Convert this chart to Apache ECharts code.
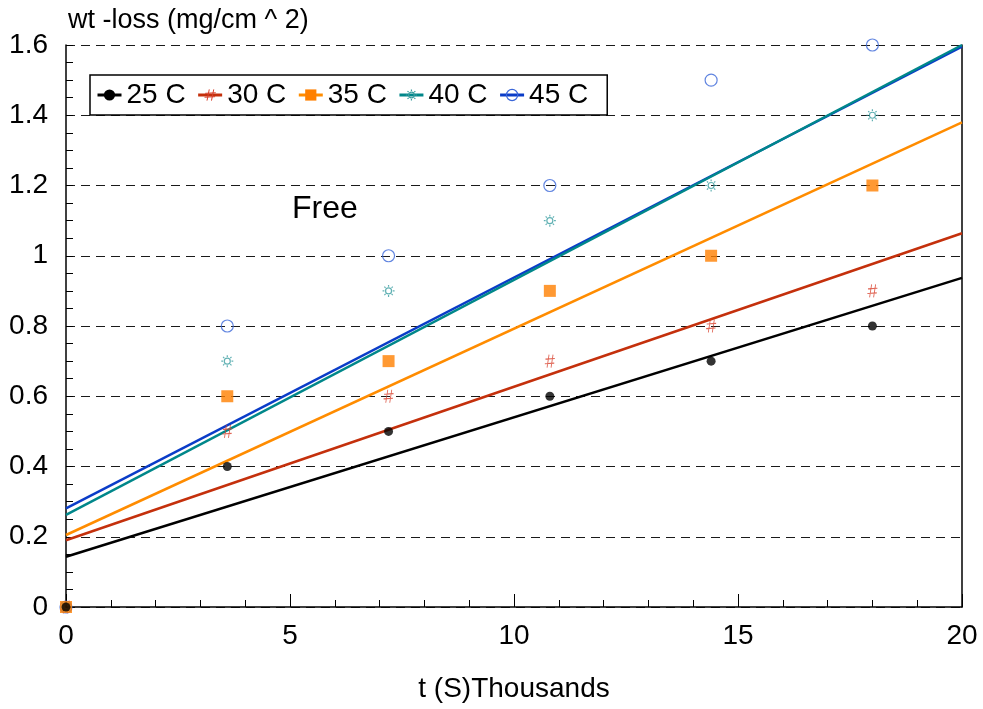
<!DOCTYPE html>
<html><head><meta charset="utf-8">
<script src="https://cdn.jsdelivr.net/npm/echarts@6/dist/echarts.min.js"></script>
<style>html,body{margin:0;padding:0;background:#fff}#c{width:983px;height:709px}</style>
</head><body><div id="c"></div>
<script>
// ---- data ----
const seriesNames = ['25 C', '30 C', '35 C', '40 C', '45 C'];
const times = [0, 3.6, 7.2, 10.8, 14.4, 18];          // t (S) thousands
const loss25 = [0, 0.4, 0.5, 0.6, 0.7, 0.8];
const loss30 = [0, 0.5, 0.6, 0.7, 0.8, 0.9];
const loss35 = [0, 0.6, 0.7, 0.9, 1.0, 1.2];
const loss40 = [0, 0.7, 0.9, 1.1, 1.2, 1.4];
const loss45 = [0, 0.8, 1.0, 1.2, 1.5, 1.6];
// trend-line values read at t = 0 and t = 20
const trendX = [0, 20];
const trend25 = [0.143, 0.937];
const trend30 = [0.19, 1.064];
const trend35 = [0.205, 1.38];
const trend40 = [0.262, 1.6];
const trend45 = [0.281, 1.595];
const annotation = 'Free';
const yName = 'wt -loss (mg/cm ^ 2)';
const xName = 't (S)Thousands';

const allLoss = [loss25, loss30, loss35, loss40, loss45];
const allTrend = [trend25, trend30, trend35, trend40, trend45];

const FONT = '"Liberation Sans", Arial, Helvetica, sans-serif';
const lineColors = ['#000000', '#c4300c', '#ff8c00', '#00878a', '#0a3cc8'];
const hashPath = 'path://M4.2,0 L2.2,12 M8.2,0 L6.2,12 M0.6,4.2 L10,3.6 M0,8.4 L9.4,7.8';
const sunPath = 'path://M9,6 A3,3 0 1,1 3,6 A3,3 0 1,1 9,6 Z M6,0 L6,1.8 M6,10.2 L6,12 M0,6 L1.8,6 M10.2,6 L12,6 M1.8,1.8 L3,3 M9,9 L10.2,10.2 M10.2,1.8 L9,3 M1.8,10.2 L3,9';
const symbols = ['circle', hashPath, 'rect', sunPath, 'circle'];
const symbolSizes = [9, [10, 13], 12, 12, 12];
const markerStyles = [
  {color: '#000000', borderWidth: 0},
  {color: 'none', borderColor: '#d8402c', borderWidth: 1},
  {color: '#ff8000', borderWidth: 0},
  {color: 'none', borderColor: '#3a9ea0', borderWidth: 1.2},
  {color: 'none', borderColor: '#3a66d8', borderWidth: 1.2}
];
const scatterZ = [7, 5, 6, 5, 5];

const series = [];
seriesNames.forEach((name, i) => {
  series.push({
    name, type: 'line',
    data: trendX.map((x, j) => [x, allTrend[i][j]]),
    showSymbol: false, symbol: symbols[i], symbolSize: symbolSizes[i],
    itemStyle: markerStyles[i],
    lineStyle: {color: lineColors[i], width: 2.5},
    z: i === 3 ? 3 : 2, clip: true, silent: true, animation: false
  });
  series.push({
    name, type: 'scatter',
    data: times.map((t, j) => [t, allLoss[i][j]]),
    symbol: symbols[i], symbolSize: symbolSizes[i],
    itemStyle: markerStyles[i],
    z: scatterZ[i], clip: false, silent: true, animation: false
  });
});

const chart = echarts.init(document.getElementById('c'), null, {renderer: 'canvas'});
chart.setOption({
  backgroundColor: '#fff',
  animation: false,
  textStyle: {fontFamily: FONT},
  grid: {left: 66, right: 21, top: 45, bottom: 102, containLabel: false, outerBoundsMode: 'none'},
  legend: {
    left: 90, top: 75,
    orient: 'horizontal',
    backgroundColor: '#fff',
    borderColor: '#000', borderWidth: 1.5,
    padding: [6, 19, 6, 6],
    itemWidth: 24, itemHeight: 14, itemGap: 11,
    textStyle: {fontSize: 28, color: '#000', fontFamily: FONT},
    lineStyle: {width: 3},
    selectedMode: false,
    data: seriesNames.map((n, i) => ({name: n, itemStyle: markerStyles[i]}))
  },
  graphic: [{
    type: 'text', left: 292, top: 193, silent: true,
    style: {text: annotation, fontSize: 32, fill: '#000', fontFamily: FONT}
  }],
  xAxis: {
    type: 'value', min: 0, max: 20, interval: 5,
    name: xName, nameLocation: 'middle', nameGap: 68,
    nameTextStyle: {fontSize: 28, color: '#000', fontFamily: FONT},
    axisLine: {show: true, lineStyle: {color: '#000', width: 1.5}},
    axisTick: {show: true, inside: true, length: 13, lineStyle: {color: '#000', width: 1}},
    minorTick: {show: true, splitNumber: 5, length: 7, lineStyle: {color: '#000', width: 1}},
    axisLabel: {fontSize: 28, color: '#000', margin: 15, fontFamily: FONT},
    splitLine: {show: false}
  },
  yAxis: [{
    type: 'value', min: 0, max: 1.6, interval: 0.2,
    name: yName, nameLocation: 'end', nameGap: 11,
    nameTextStyle: {fontSize: 27, color: '#000', align: 'left', verticalAlign: 'bottom', padding: [0, 0, 0, 2], fontFamily: FONT},
    axisLine: {show: true, lineStyle: {color: '#000', width: 1.5}},
    axisTick: {show: true, inside: true, length: 7, lineStyle: {color: '#000', width: 1}},
    minorTick: {show: true, splitNumber: 4, length: 7, lineStyle: {color: '#000', width: 1}},
    axisLabel: {fontSize: 28, color: '#000', margin: 18, fontFamily: FONT},
    splitLine: {show: true, lineStyle: {type: [9, 6], color: '#1a1a1a', width: 1}}
  }, {
    type: 'value', min: 0, max: 1.6, interval: 0.2, position: 'right',
    axisLine: {show: true, onZero: false, lineStyle: {color: '#000', width: 1.5}},
    axisTick: {show: false}, axisLabel: {show: false}, splitLine: {show: false}
  }],
  series
});
</script>
</body></html>
